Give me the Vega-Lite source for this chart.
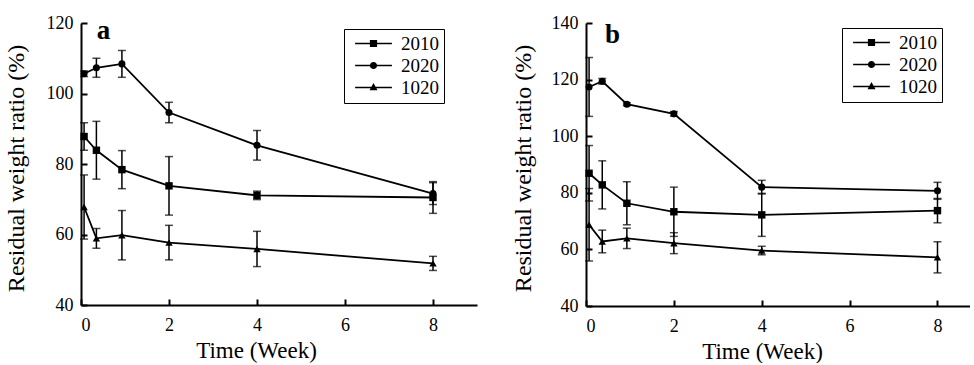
{
  "$schema": "https://vega.github.io/schema/vega-lite/v6.json",
  "padding": {"left": 3, "top": 14, "right": 0, "bottom": 0},
  "background": "white",
  "spacing": 33,
  "config": {
    "view": {"stroke": null},
    "font": "Liberation Serif",
    "axis": {
      "grid": false,
      "domainColor": "black",
      "domainWidth": 2,
      "tickColor": "black",
      "tickWidth": 2,
      "tickSize": -6,
      "labelFont": "Liberation Serif",
      "labelFontSize": 18,
      "labelColor": "black",
      "titleFont": "Liberation Serif",
      "titleFontWeight": "normal",
      "titleColor": "black"
    },
    "legend": {
      "labelFont": "Liberation Serif",
      "labelFontSize": 19,
      "labelColor": "black"
    }
  },
  "datasets": {
    "weights": [
      {"panel": "a", "series": "2010", "time": 0.07, "value": 87.8, "err": 3.9},
      {"panel": "a", "series": "2010", "time": 0.35, "value": 83.9, "err": 8.2},
      {"panel": "a", "series": "2010", "time": 0.93, "value": 78.4, "err": 5.4},
      {"panel": "a", "series": "2010", "time": 2, "value": 73.8, "err": 8.3},
      {"panel": "a", "series": "2010", "time": 4, "value": 71.1, "err": 1.2},
      {"panel": "a", "series": "2010", "time": 8, "value": 70.5, "err": 4.5},
      {"panel": "a", "series": "2020", "time": 0.07, "value": 105.6, "err": 0.8},
      {"panel": "a", "series": "2020", "time": 0.35, "value": 107.3, "err": 2.7},
      {"panel": "a", "series": "2020", "time": 0.93, "value": 108.4, "err": 3.8},
      {"panel": "a", "series": "2020", "time": 2, "value": 94.6, "err": 2.9},
      {"panel": "a", "series": "2020", "time": 4, "value": 85.3, "err": 4.2},
      {"panel": "a", "series": "2020", "time": 8, "value": 71.6, "err": 3.1},
      {"panel": "a", "series": "1020", "time": 0.07, "value": 67.8, "err": 9.1},
      {"panel": "a", "series": "1020", "time": 0.35, "value": 58.9, "err": 2.8},
      {"panel": "a", "series": "1020", "time": 0.93, "value": 59.8, "err": 7},
      {"panel": "a", "series": "1020", "time": 2, "value": 57.7, "err": 4.9},
      {"panel": "a", "series": "1020", "time": 4, "value": 55.9, "err": 5},
      {"panel": "a", "series": "1020", "time": 8, "value": 51.8, "err": 2},
      {"panel": "b", "series": "2010", "time": 0.07, "value": 86.9, "err": 9.8},
      {"panel": "b", "series": "2010", "time": 0.37, "value": 82.8, "err": 8.5},
      {"panel": "b", "series": "2010", "time": 0.93, "value": 76.3, "err": 7.6},
      {"panel": "b", "series": "2010", "time": 2, "value": 73.3, "err": 8.7},
      {"panel": "b", "series": "2010", "time": 4, "value": 72.2, "err": 7.6},
      {"panel": "b", "series": "2010", "time": 8, "value": 73.7, "err": 4.3},
      {"panel": "b", "series": "2020", "time": 0.07, "value": 117.4, "err": 10.4},
      {"panel": "b", "series": "2020", "time": 0.37, "value": 119.4, "err": 1},
      {"panel": "b", "series": "2020", "time": 0.93, "value": 111.3, "err": 0.5},
      {"panel": "b", "series": "2020", "time": 2, "value": 107.9, "err": 0.8},
      {"panel": "b", "series": "2020", "time": 4, "value": 82, "err": 2.4},
      {"panel": "b", "series": "2020", "time": 8, "value": 80.7, "err": 3},
      {"panel": "b", "series": "1020", "time": 0.07, "value": 68.7, "err": 12.8},
      {"panel": "b", "series": "1020", "time": 0.37, "value": 62.8, "err": 4},
      {"panel": "b", "series": "1020", "time": 0.93, "value": 63.9, "err": 3.6},
      {"panel": "b", "series": "1020", "time": 2, "value": 62.2, "err": 3.7},
      {"panel": "b", "series": "1020", "time": 4, "value": 59.6, "err": 1.5},
      {"panel": "b", "series": "1020", "time": 8, "value": 57.2, "err": 5.5}
    ],
    "labels": [
      {"panel": "a", "label": "a"},
      {"panel": "b", "label": "b"}
    ]
  },
  "hconcat": [
    {
      "width": 396,
      "height": 282,
      "layer": [
        {
          "data": {"name": "weights"},
          "transform": [{"filter": "datum.panel == 'a'"}],
          "encoding": {
            "x": {"field": "time", "type": "quantitative", "scale": {"domain": [0, 9], "nice": false, "zero": false},
                  "axis": {"values": [0, 2, 4, 6, 8], "title": "Time (Week)", "titleFontSize": 23, "titleX": 175, "titleY": 52, "titleAlign": "center", "titleBaseline": "alphabetic", "labelPadding": 17}},
            "y": {"field": "value", "type": "quantitative", "scale": {"domain": [40, 120], "nice": false, "zero": false},
                  "axis": {"values": [40, 60, 80, 100, 120], "title": "Residual weight ratio (%)", "titleFontSize": 24, "titleX": -58, "titleY": 145, "titleAlign": "center", "titleBaseline": "alphabetic", "titleAngle": -90, "labelPadding": 14}}
          },
          "layer": [
            {
              "mark": {"type": "errorbar", "ticks": {"size": 8, "thickness": 1.5, "color": "black"}, "rule": {"strokeWidth": 1.5, "color": "black"}, "color": "black"},
              "encoding": {"yError": {"field": "err"}, "detail": {"field": "series"}}
            },
            {
              "mark": {"type": "line", "color": "black", "strokeWidth": 1.8},
              "encoding": {"detail": {"field": "series"}}
            },
            {
              "transform": [{"filter": "datum.series == '2010'"}],
              "mark": {"type": "point", "filled": true, "color": "black", "size": 55, "shape": "square", "opacity": 1}
            },
            {
              "transform": [{"filter": "datum.series == '2020'"}],
              "mark": {"type": "point", "filled": true, "color": "black", "size": 50, "shape": "circle", "opacity": 1}
            },
            {
              "transform": [{"filter": "datum.series == '1020'"}],
              "mark": {"type": "point", "filled": true, "color": "black", "size": 55, "shape": "triangle-up", "opacity": 1}
            },
            {
              "mark": {"type": "point", "filled": true, "color": "black", "size": 64, "opacity": 0},
              "encoding": {
                "shape": {"field": "series", "type": "nominal",
                  "scale": {"domain": ["2010", "2020", "1020"], "range": ["M-4.6,-0.2H4.6V0.2H-4.6Z M-0.9,-0.9H0.9V0.9H-0.9Z", "M-4.6,-0.2H4.6V0.2H-4.6Z M0.9,0A0.9,0.9,0,1,1,-0.9,0A0.9,0.9,0,1,1,0.9,0Z", "M-4.6,-0.2H4.6V0.2H-4.6Z M0,-1.1L1,0.7H-1Z"]},
                  "legend": {"title": null, "orient": "none", "legendX": 263, "legendY": 6, "strokeColor": "black", "padding": 5, "rowPadding": 2, "symbolSize": 64, "symbolOffset": 15, "labelOffset": 18,
                    "symbolFillColor": "black", "symbolStrokeColor": "black", "symbolStrokeWidth": 0, "symbolOpacity": 1,
                    "encode": {"legend": {"strokeWidth": {"value": 1.5}}}}}
              }
            }
          ]
        },
        {
          "data": {"name": "labels"},
          "transform": [{"filter": "datum.panel == 'a'"}],
          "mark": {"type": "text", "font": "Liberation Serif", "fontSize": 27, "fontWeight": "bold", "align": "left", "baseline": "alphabetic", "color": "black"},
          "encoding": {"x": {"datum": 0.36, "type": "quantitative"}, "y": {"datum": 115.5, "type": "quantitative"}, "text": {"field": "label", "type": "nominal"}}
        }
      ]
    },
    {
      "width": 384,
      "height": 283,
      "layer": [
        {
          "data": {"name": "weights"},
          "transform": [{"filter": "datum.panel == 'b'"}],
          "encoding": {
            "x": {"field": "time", "type": "quantitative", "scale": {"domain": [0, 8.74], "nice": false, "zero": false},
                  "axis": {"values": [0, 2, 4, 6, 8], "title": "Time (Week)", "titleFontSize": 23, "titleX": 176, "titleY": 52, "titleAlign": "center", "titleBaseline": "alphabetic", "labelPadding": 17}},
            "y": {"field": "value", "type": "quantitative", "scale": {"domain": [40, 140], "nice": false, "zero": false},
                  "axis": {"values": [40, 60, 80, 100, 120, 140], "title": "Residual weight ratio (%)", "titleFontSize": 24, "titleX": -56, "titleY": 145, "titleAlign": "center", "titleBaseline": "alphabetic", "titleAngle": -90, "labelPadding": 14}}
          },
          "layer": [
            {
              "mark": {"type": "errorbar", "ticks": {"size": 8, "thickness": 1.5, "color": "black"}, "rule": {"strokeWidth": 1.5, "color": "black"}, "color": "black"},
              "encoding": {"yError": {"field": "err"}, "detail": {"field": "series"}}
            },
            {
              "mark": {"type": "line", "color": "black", "strokeWidth": 1.8},
              "encoding": {"detail": {"field": "series"}}
            },
            {
              "transform": [{"filter": "datum.series == '2010'"}],
              "mark": {"type": "point", "filled": true, "color": "black", "size": 55, "shape": "square", "opacity": 1}
            },
            {
              "transform": [{"filter": "datum.series == '2020'"}],
              "mark": {"type": "point", "filled": true, "color": "black", "size": 50, "shape": "circle", "opacity": 1}
            },
            {
              "transform": [{"filter": "datum.series == '1020'"}],
              "mark": {"type": "point", "filled": true, "color": "black", "size": 55, "shape": "triangle-up", "opacity": 1}
            },
            {
              "mark": {"type": "point", "filled": true, "color": "black", "size": 64, "opacity": 0},
              "encoding": {
                "shape": {"field": "series", "type": "nominal",
                  "scale": {"domain": ["2010", "2020", "1020"], "range": ["M-4.6,-0.2H4.6V0.2H-4.6Z M-0.9,-0.9H0.9V0.9H-0.9Z", "M-4.6,-0.2H4.6V0.2H-4.6Z M0.9,0A0.9,0.9,0,1,1,-0.9,0A0.9,0.9,0,1,1,0.9,0Z", "M-4.6,-0.2H4.6V0.2H-4.6Z M0,-1.1L1,0.7H-1Z"]},
                  "legend": {"title": null, "orient": "none", "legendX": 256, "legendY": 5, "strokeColor": "black", "padding": 5, "rowPadding": 2, "symbolSize": 64, "symbolOffset": 15, "labelOffset": 18,
                    "symbolFillColor": "black", "symbolStrokeColor": "black", "symbolStrokeWidth": 0, "symbolOpacity": 1,
                    "encode": {"legend": {"strokeWidth": {"value": 1.5}}}}}
              }
            }
          ]
        },
        {
          "data": {"name": "labels"},
          "transform": [{"filter": "datum.panel == 'b'"}],
          "mark": {"type": "text", "font": "Liberation Serif", "fontSize": 27, "fontWeight": "bold", "align": "left", "baseline": "alphabetic", "color": "black"},
          "encoding": {"x": {"datum": 0.43, "type": "quantitative"}, "y": {"datum": 133.1, "type": "quantitative"}, "text": {"field": "label", "type": "nominal"}}
        }
      ]
    }
  ],
  "resolve": {"scale": {"shape": "independent"}, "legend": {"shape": "independent"}}
}
